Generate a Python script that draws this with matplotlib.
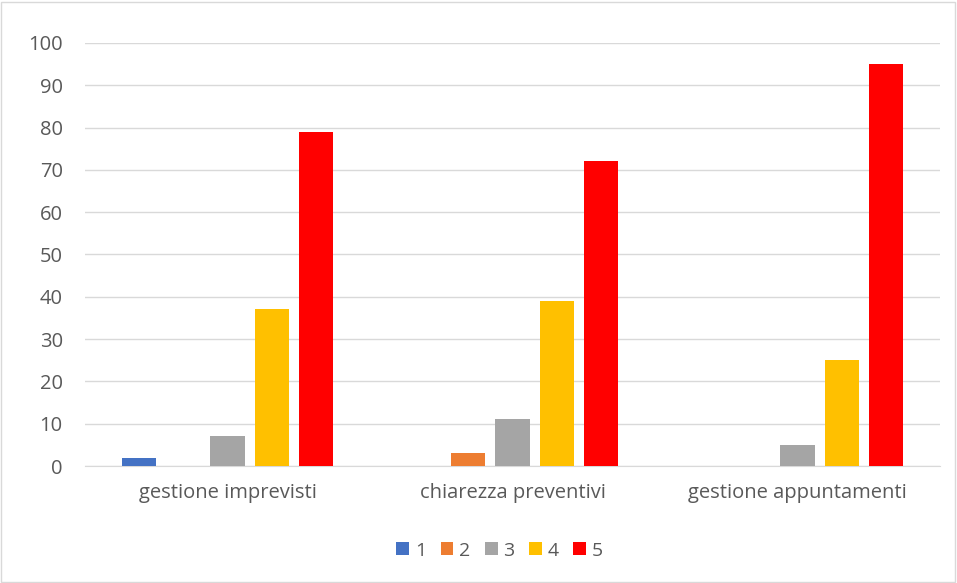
import matplotlib.pyplot as plt
import numpy as np
from matplotlib.patches import Rectangle

# data
categories = ["gestione imprevisti", "chiarezza preventivi", "gestione appuntamenti"]
series_names = ["1", "2", "3", "4", "5"]
s1 = [2, 0, 0]
s2 = [0, 3, 0]
s3 = [7, 11, 5]
s4 = [37, 39, 25]
s5 = [79, 72, 95]
colors = ["#4472c4", "#ed7d31", "#a5a5a5", "#ffc000", "#ff0000"]

plt.rcParams["font.family"] = ["Open Sans", "DejaVu Sans"]

fig = plt.figure(figsize=(9.57, 5.83), dpi=100)
ax = fig.add_axes([85 / 957, 117 / 583, 855 / 957, 423 / 583])

x = np.arange(len(categories))
width = 0.12
pitch = 0.155
for i, (vals, name) in enumerate(zip([s1, s2, s3, s4, s5], series_names)):
    ax.bar(x + (i - 2) * pitch, vals, width, color=colors[i], label=name, zorder=3)

ax.set_xlim(-0.5, 2.5)
ax.set_ylim(0, 100)
ax.set_yticks(range(0, 101, 10))
ax.set_xticks(x)
ax.set_xticklabels(categories)
ax.grid(axis="y", color="#d9d9d9", linewidth=1, zorder=0)
for s in ["top", "right", "left"]:
    ax.spines[s].set_visible(False)
ax.spines["bottom"].set_color("#d9d9d9")
ax.tick_params(axis="both", length=0, labelsize=14.5, colors="#595959")
ax.tick_params(axis="x", pad=12)
ax.tick_params(axis="y", pad=16)

# legend sits a bit left of the plot centre in the original
leg = ax.legend(loc="center", bbox_to_anchor=(0.485, -0.2), ncol=5, frameon=False,
                fontsize=14, handlelength=0.65, handleheight=0.65, handletextpad=0.3,
                columnspacing=0.75, labelcolor="#595959")

fig.patches.append(Rectangle((1 / 957, 1 / 583), 954 / 957, 580 / 583, transform=fig.transFigure,
                             fill=False, edgecolor="#d9d9d9", linewidth=1))

fig.savefig("out.png", dpi=100)
